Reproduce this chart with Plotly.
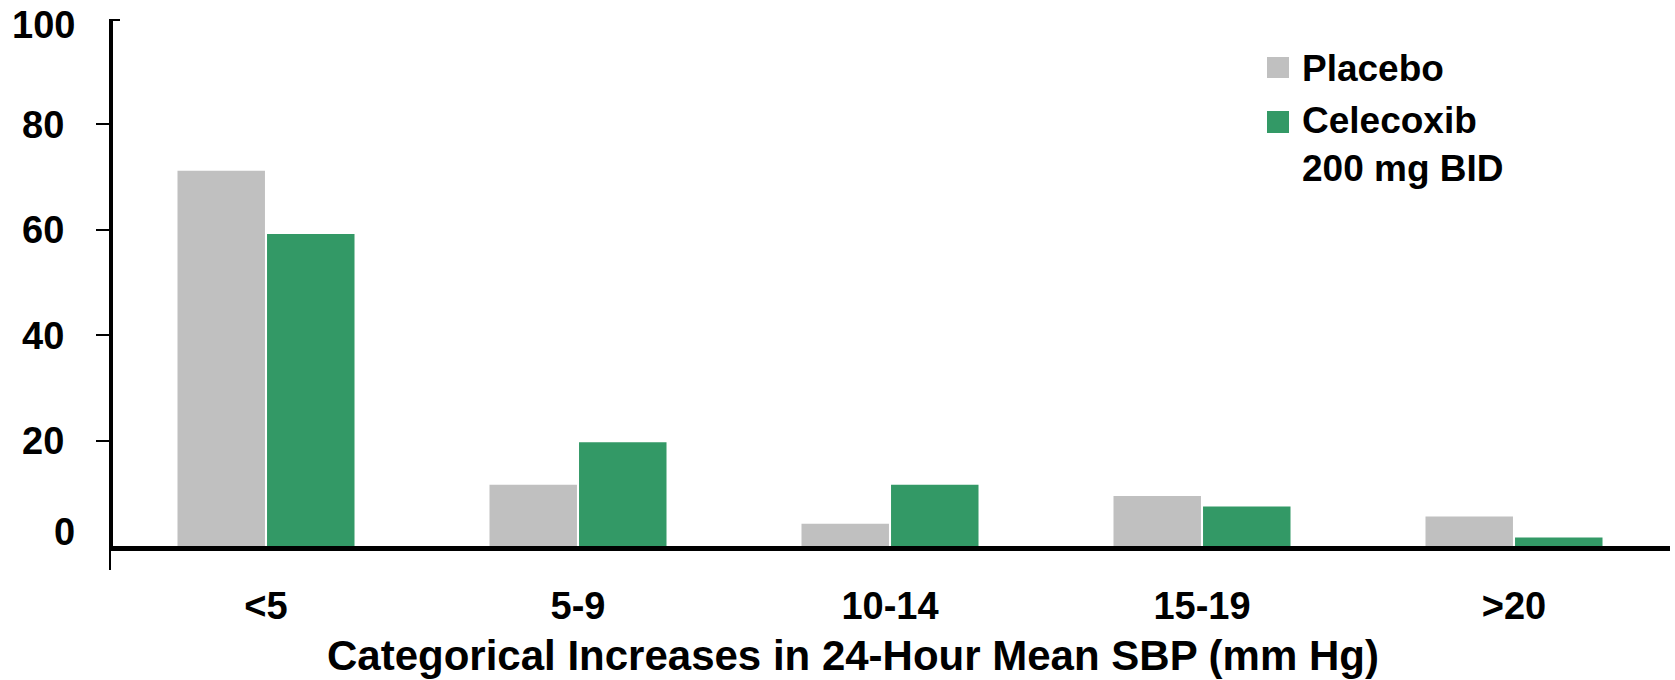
import plotly.graph_objects as go

categories = ["<5", "5-9", "10-14", "15-19", ">20"]
placebo = [71.2, 11.6, 4.2, 9.5, 5.6]
celecoxib = [59.2, 19.7, 11.6, 7.5, 1.6]
series_names = ["Placebo", "Celecoxib<br>200 mg BID"]
y_tick_vals = [20, 40, 60, 80]
x_title = "Categorical Increases in 24-Hour Mean SBP (mm Hg)"

GREY = "#C0C0C0"
GREEN = "#339966"
FONT = "Liberation Sans, Arial, sans-serif"

fig = go.Figure()
fig.add_trace(go.Bar(x=categories, y=placebo, name="Placebo",
                     marker=dict(color=GREY, line=dict(width=0)), showlegend=False))
fig.add_trace(go.Bar(x=categories, y=celecoxib, name="Celecoxib 200 mg BID",
                     marker=dict(color=GREEN, line=dict(width=0)), showlegend=False))

L, R, T, B = 110, 5, 19, 134
W, H = 1675, 680
pw = W - L - R
ph = H - T - B

def px_x(p):
    return (p - L) / pw

def px_y(p):
    return (H - B - p) / ph

fig.update_layout(
    width=W, height=H,
    margin=dict(l=L, r=R, t=T, b=B, pad=0),
    paper_bgcolor="white", plot_bgcolor="white",
    barmode="group", bargap=0.426, bargroupgap=0.023,
    font=dict(family=FONT, color="black"),
    xaxis=dict(
        type="category", range=[-0.5, 4.5], automargin=False,
        showline=True, linecolor="black", linewidth=5,
        showgrid=False, zeroline=False,
        ticks="inside", tickson="boundaries", ticklen=6, tickwidth=2, tickcolor="white",
        tickfont=dict(family=FONT, size=38, color="black", weight="bold"),
        ticklabelstandoff=22,
    ),
    yaxis=dict(
        range=[0, 100], automargin=False,
        showline=False,
        showgrid=False, zeroline=False,
        tickvals=y_tick_vals, ticktext=[str(v) for v in y_tick_vals],
        ticks="outside", ticklen=13, tickwidth=2, tickcolor="black",
        tickfont=dict(family=FONT, size=38, color="black", weight="bold"),
        ticklabelstandoff=24,
    ),
)

# y-axis line (drawn slightly inside the plot edge, as in the original)
fig.add_shape(type="line", xref="paper", yref="paper",
              x0=px_x(111), x1=px_x(111), y0=px_y(19), y1=px_y(550),
              line=dict(color="black", width=4))

# y-axis end labels (0 sits slightly above the axis line, 100 at top)
fig.add_annotation(text="<b>100</b>", x=px_x(77), y=px_y(25), xref="paper", yref="paper",
                   xanchor="right", yanchor="middle", showarrow=False,
                   font=dict(family=FONT, size=38, color="black"))
fig.add_annotation(text="<b>0</b>", x=px_x(77), y=px_y(532), xref="paper", yref="paper",
                   xanchor="right", yanchor="middle", showarrow=False,
                   font=dict(family=FONT, size=38, color="black"))

# top cap of the y-axis and stub below the x-axis
fig.add_shape(type="line", xref="paper", yref="paper",
              x0=px_x(109), x1=px_x(120), y0=px_y(20), y1=px_y(20),
              line=dict(color="black", width=2))
fig.add_shape(type="line", xref="paper", yref="paper",
              x0=px_x(110), x1=px_x(110), y0=px_y(549), y1=px_y(570),
              line=dict(color="black", width=2))

# x-axis title
fig.add_annotation(text="<b>" + x_title + "</b>", x=px_x(853), y=px_y(655),
                   xref="paper", yref="paper", xanchor="center", yanchor="middle",
                   showarrow=False, font=dict(family=FONT, size=42, color="black"))

# legend
fig.add_shape(type="rect", xref="paper", yref="paper",
              x0=px_x(1267), x1=px_x(1289), y0=px_y(78), y1=px_y(57),
              fillcolor=GREY, line=dict(width=0))
fig.add_shape(type="rect", xref="paper", yref="paper",
              x0=px_x(1267), x1=px_x(1289), y0=px_y(133), y1=px_y(111),
              fillcolor=GREEN, line=dict(width=0))
fig.add_annotation(text="<b>" + series_names[0] + "</b>", x=px_x(1300), y=px_y(68),
                   xref="paper", yref="paper", xanchor="left", yanchor="middle",
                   showarrow=False, align="left",
                   font=dict(family=FONT, size=37, color="black"))
fig.add_annotation(text="<b>" + series_names[1] + "</b>", x=px_x(1300), y=px_y(144),
                   xref="paper", yref="paper", xanchor="left", yanchor="middle",
                   showarrow=False, align="left",
                   font=dict(family=FONT, size=37, color="black"))

fig.write_html("out.html", config={"displayModeBar": False},
               post_script="document.body.style.margin='0';document.body.style.overflow='hidden';")
